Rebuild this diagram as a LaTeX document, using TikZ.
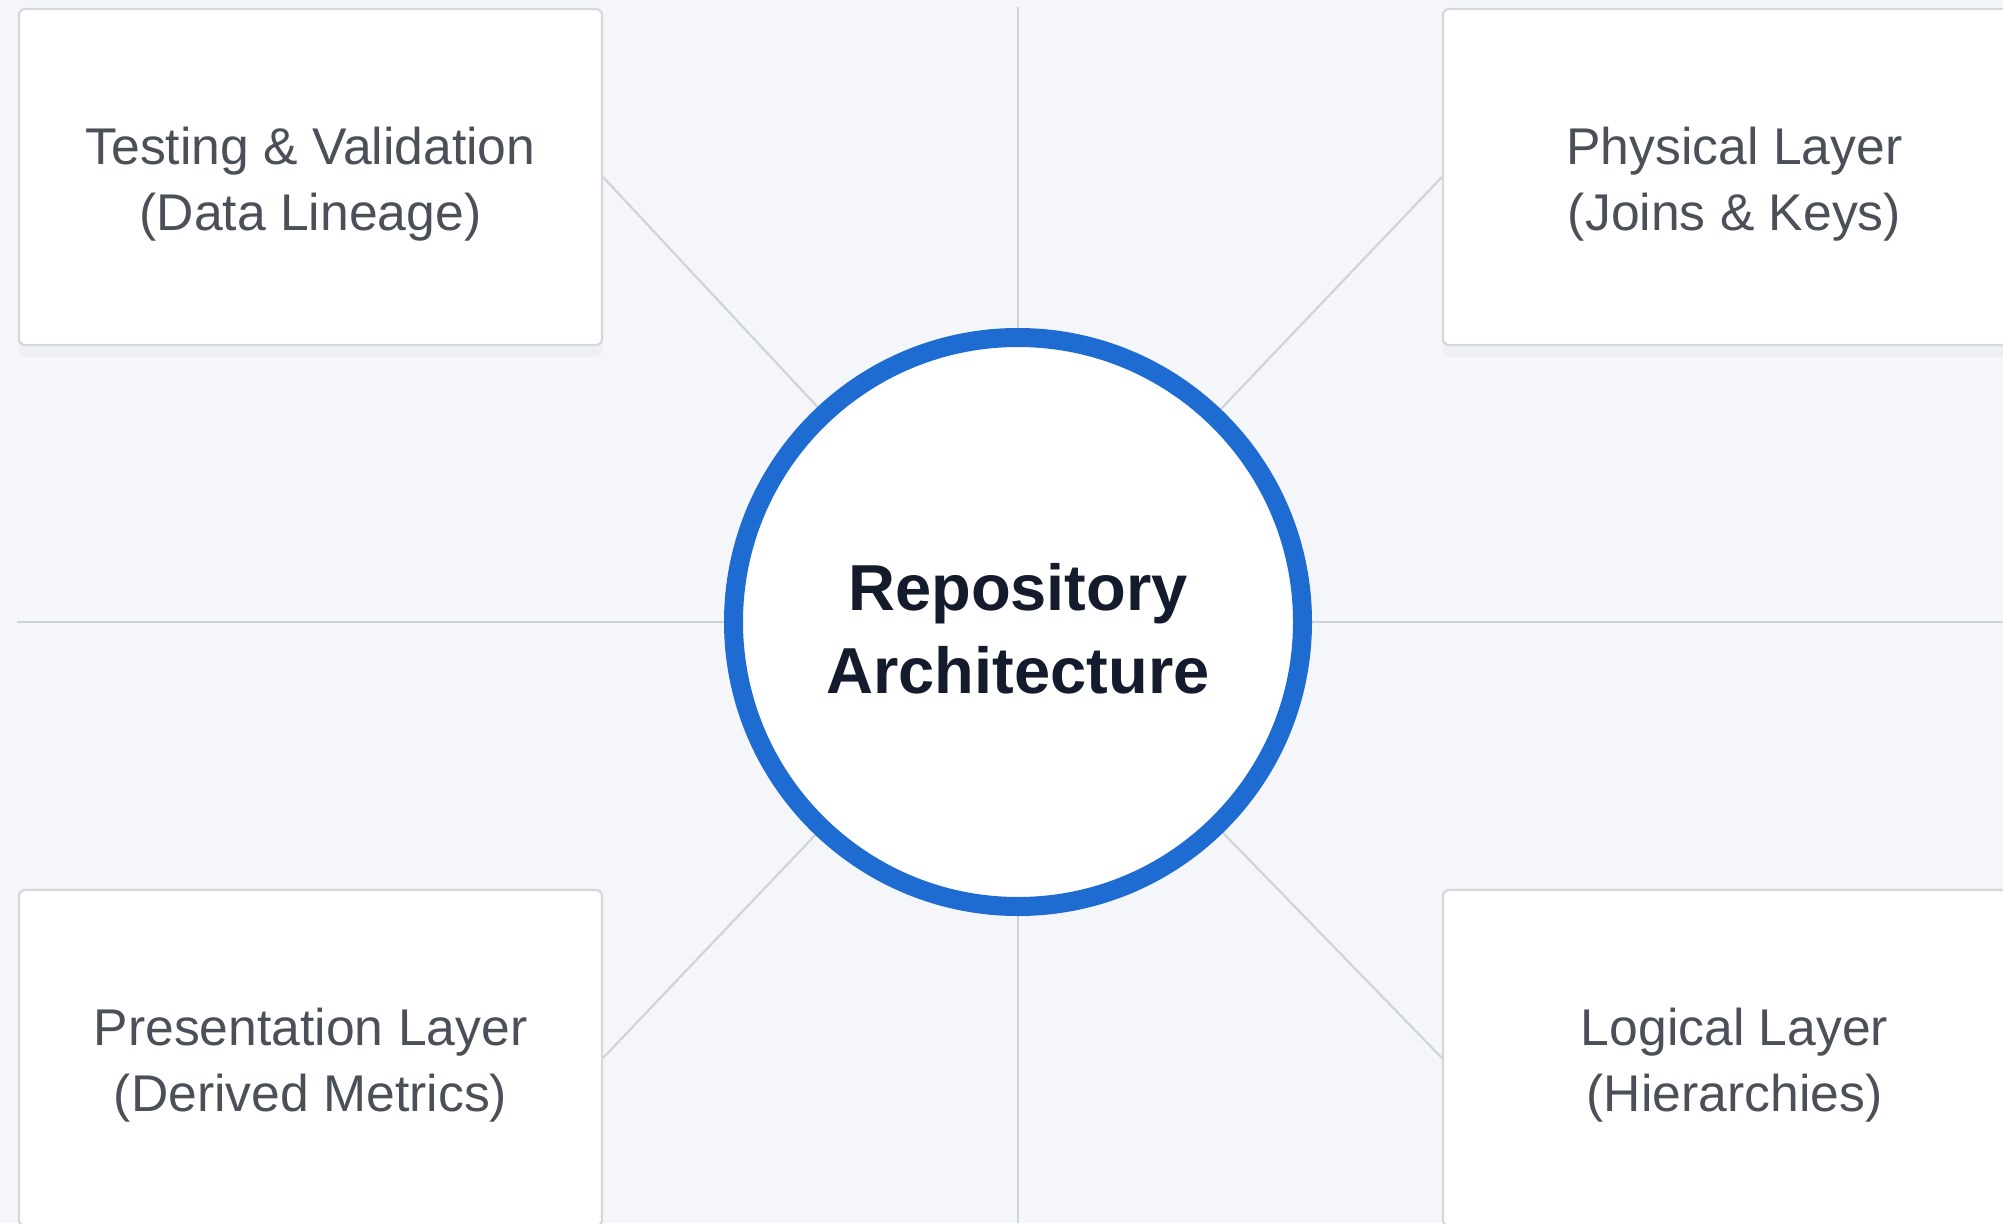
\documentclass[tikz,border=0pt]{standalone}
\usepackage{fontspec}
\setmainfont{Liberation Sans}
\definecolor{Ring}{HTML}{1E6CD2}
\definecolor{Ink}{HTML}{141B2D}
\definecolor{Label}{HTML}{4B5058}
\definecolor{Rule}{HTML}{CED3D9}
\definecolor{Edge}{HTML}{D3D8DE}
\definecolor{Paper}{HTML}{F4F6F9}
\usepackage{tikz}
\usetikzlibrary{positioning, backgrounds, shadows}
% extra room above the first line, pushes the text a bit down
\newcommand{\lift}[1]{\rule{0pt}{#1}}

\begin{document}
\begin{tikzpicture}[x=1cm, y=1cm,
    layerbox/.style={rectangle, draw=Edge, line width=0.6pt, fill=white,
      rounded corners=0.06cm, minimum width=5.83cm, minimum height=3.36cm,
      text=Label, align=center, font=\fontsize{14.7}{18.8}\selectfont,
      drop shadow={shadow xshift=0cm, shadow yshift=-0.12cm, opacity=0.05}},
    hubnode/.style={circle, draw=Ring, line width=0.19cm, fill=white,
      minimum size=5.69cm, inner sep=0pt, text=Ink, align=center,
      font=\bfseries\fontsize{18.5}{23.6}\selectfont,
      drop shadow={shadow xshift=0cm, shadow yshift=-0.1cm, opacity=0.06}},
    spoke/.style={draw=Rule, line width=0.6pt}]
      \useasboundingbox (0,0) rectangle (20.03,12.23);
      \clip (0,0) rectangle (20.03,12.23);

      % centre and the four layers
      \node[hubnode] (hub) at (10.18,6.01) {\lift{0.6cm}Repository\\Architecture};
      \node[layerbox] (testing) at (3.105,10.46) {\lift{0.52cm}Testing \& Validation\\(Data Lineage)};
      \node[layerbox] (physical) at (17.345,10.46) {\lift{0.52cm}Physical Layer\\(Joins \& Keys)};
      \node[layerbox] (presentation) at (3.105,1.65) {\lift{0.52cm}Presentation Layer\\(Derived Metrics)};
      \node[layerbox] (logical) at (17.345,1.65) {\lift{0.52cm}Logical Layer\\(Hierarchies)};

      \coordinate (top) at (10.18,12.16);
      \coordinate (bottom) at (10.18,0);
      \coordinate (left) at (0.17,6.01);
      \coordinate (right) at (20.03,6.01);

      \begin{pgfonlayer}{background}
        \fill[Paper] (0,0) rectangle (20.03,12.23);
        %\draw[help lines] (0,0) grid (20,12);
        \draw[spoke] (top) -- (bottom);
        \draw[spoke] (left) -- (right);
        \draw[spoke] (testing.east) -- (hub);
        \draw[spoke] (physical.west) -- (hub);
        \draw[spoke] (presentation.east) -- (hub);
        \draw[spoke] (logical.west) -- (hub);
      \end{pgfonlayer}

    \end{tikzpicture}
\end{document}
